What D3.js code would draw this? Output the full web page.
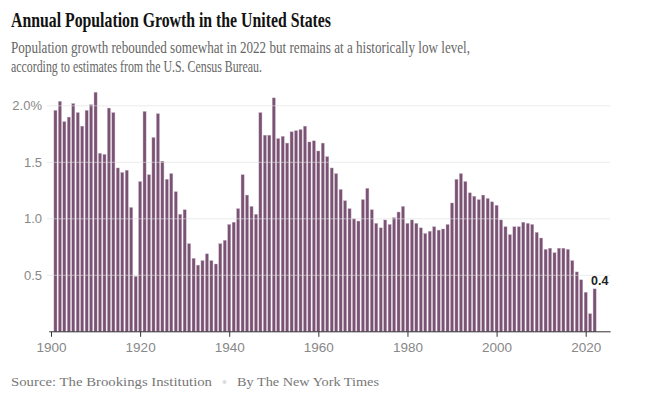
<!DOCTYPE html>
<html>
<head>
<meta charset="utf-8">
<script src="https://cdn.jsdelivr.net/npm/d3@7"></script>
<style>
  body { margin: 0; background: #fff; }
  svg { display: block; }
</style>
</head>
<body>
<svg id="chart" width="655" height="398"></svg>
<script>
// growth in percent, one per year, 1901..2022
var firstYear = 1901;
var growth = [
  1.96, 2.04, 1.86, 1.90, 2.02, 1.94, 1.82, 1.96, 2.01, 2.12,
  1.58, 1.57, 1.98, 1.94, 1.45, 1.41, 1.43, 1.10, 0.49, 1.33,
  1.95, 1.39, 1.72, 1.93, 1.51, 1.35, 1.40, 1.24, 1.04, 1.08,
  0.78, 0.65, 0.59, 0.63, 0.69, 0.63, 0.60, 0.78, 0.81, 0.95,
  0.97, 1.09, 1.39, 1.21, 1.11, 1.04, 1.94, 1.74, 1.74, 2.07,
  1.71, 1.73, 1.67, 1.77, 1.78, 1.79, 1.82, 1.68, 1.69, 1.60,
  1.67, 1.55, 1.45, 1.40, 1.26, 1.16, 1.09, 1.00, 0.98, 1.17,
  1.27, 1.08, 0.96, 0.92, 0.99, 0.95, 1.01, 1.06, 1.11, 0.96,
  0.99, 0.96, 0.92, 0.87, 0.89, 0.93, 0.90, 0.91, 0.95, 1.14,
  1.35, 1.40, 1.33, 1.23, 1.20, 1.17, 1.21, 1.18, 1.15, 1.12,
  0.99, 0.93, 0.86, 0.93, 0.93, 0.97, 0.96, 0.95, 0.88, 0.83,
  0.73, 0.74, 0.70, 0.74, 0.74, 0.73, 0.63, 0.53, 0.46, 0.35,
  0.16, 0.38
];
var yTicks = [0.5, 1.0, 1.5, 2.0];
var xTicks = [1900, 1920, 1940, 1960, 1980, 2000, 2020];

var title = "Annual Population Growth in the United States";
var subtitle = [
  "Population growth rebounded somewhat in 2022 but remains at a historically low level,",
  "according to estimates from the U.S. Census Bureau."
];
var source = "Source: The Brookings Institution";
var credit = "By The New York Times";

var data = growth.map(function (v, i) { return { year: firstYear + i, value: v }; });

var svg = d3.select("#chart");

var x = d3.scaleLinear().domain([1900, 2020]).range([51, 585.7]);
var y = d3.scaleLinear().domain([0, 2]).range([331.8, 105.8]);
var barW = 3.1;

// header
svg.append("text")
   .attr("x", 11).attr("y", 27)
   .attr("font-family", "Liberation Serif, serif")
   .attr("font-weight", "bold")
   .attr("font-size", 21)
   .attr("fill", "#121212")
   .attr("textLength", 320)
   .attr("lengthAdjust", "spacingAndGlyphs")
   .text(title);

svg.selectAll(".sub").data(subtitle).enter().append("text")
   .attr("class", "sub")
   .attr("x", 11)
   .attr("y", function (d, i) { return 53 + i * 19; })
   .attr("font-family", "Liberation Serif, serif")
   .attr("font-size", 16.5)
   .attr("fill", "#666")
   .attr("textLength", function (d, i) { return i === 0 ? 459 : 251; })
   .attr("lengthAdjust", "spacingAndGlyphs")
   .text(function (d) { return d; });

// bars
svg.append("g").selectAll("rect").data(data).enter().append("rect")
   .attr("x", function (d) { return x(d.year) - barW / 2; })
   .attr("y", function (d) { return y(d.value); })
   .attr("width", barW)
   .attr("height", function (d) { return y(0) - y(d.value); })
   .attr("fill", "#7a5274")
   .attr("stroke", "#c9b3c5")
   .attr("stroke-width", 0.4);

// gridlines, drawn faintly over the bars
svg.append("g").selectAll("line").data(yTicks).enter().append("line")
   .attr("x1", 47).attr("x2", 610)
   .attr("y1", function (d) { return y(d); })
   .attr("y2", function (d) { return y(d); })
   .attr("stroke", "#ddd")
   .attr("stroke-opacity", 0.6)
   .attr("stroke-width", 1);

// y labels
svg.append("g").selectAll("text").data(yTicks).enter().append("text")
   .attr("x", 42)
   .attr("y", function (d) { return y(d) + 4.5; })
   .attr("text-anchor", "end")
   .attr("font-family", "Liberation Sans, Arial, sans-serif")
   .attr("font-size", 13)
   .attr("fill", "#888")
   .text(function (d) { return d === 2 ? "2.0%" : d3.format(".1f")(d); });

// x axis
var xAxis = svg.append("g")
   .attr("transform", "translate(0," + y(0) + ")")
   .call(d3.axisBottom(x).tickValues(xTicks).tickSize(5).tickSizeOuter(0).tickFormat(d3.format("d")));
xAxis.select(".domain").remove();
xAxis.append("line")
   .attr("x1", x(1899.6)).attr("x2", x(2025.6))
   .attr("stroke", "#333").attr("stroke-width", 1);
xAxis.selectAll(".tick line").attr("stroke", "#333");
xAxis.selectAll(".tick text")
   .attr("y", 11)
   .attr("font-family", "Liberation Sans, Arial, sans-serif")
   .attr("font-size", 13.5)
   .attr("fill", "#888");

// label on the last bar
var last = data[data.length - 1];
svg.append("text")
   .attr("x", x(last.year) - 3.5)
   .attr("y", y(last.value) - 4)
   .attr("font-family", "Liberation Sans, Arial, sans-serif")
   .attr("font-weight", "bold")
   .attr("font-size", 12.5)
   .attr("fill", "#222")
   .text(d3.format(".1f")(last.value));

// footer
function footText(str, xPos, len) {
   return svg.append("text")
      .attr("x", xPos).attr("y", 386)
      .attr("font-family", "Liberation Serif, serif")
      .attr("font-size", 13.5)
      .attr("fill", "#777")
      .attr("textLength", len)
      .attr("lengthAdjust", "spacingAndGlyphs")
      .text(str);
}
footText(source, 11, 201);
footText(credit, 237, 142);
svg.append("circle")
   .attr("cx", 224.5).attr("cy", 382)
   .attr("r", 2)
   .attr("fill", "#ddd");
</script>
</body>
</html>
